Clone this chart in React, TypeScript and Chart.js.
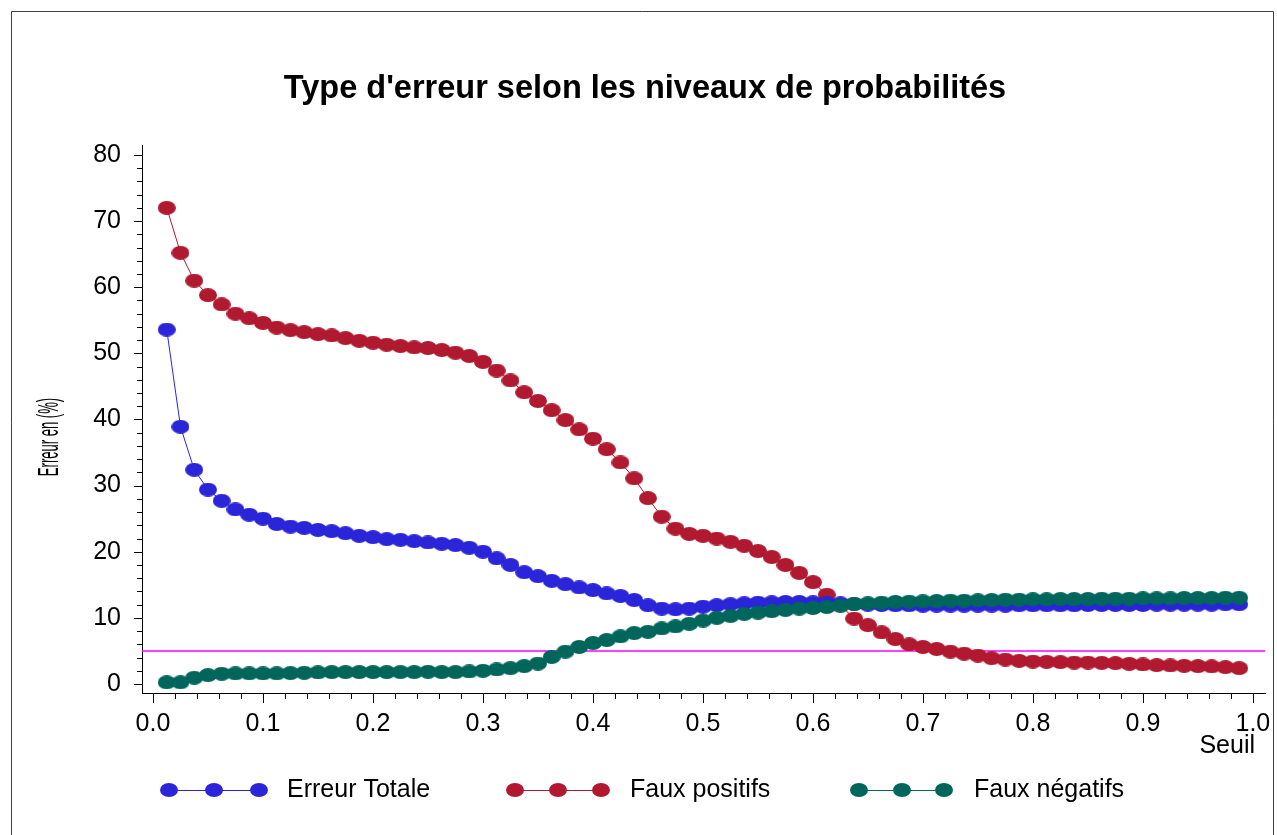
import React, { useEffect, useRef } from "react";
import { Chart, registerables } from "chart.js";

Chart.register(...registerables);

const SEUILS = [
  0.0125, 0.025, 0.0375, 0.05, 0.0625, 0.075, 0.0875, 0.1, 0.1125, 0.125,
  0.1375, 0.15, 0.1625, 0.175, 0.1875, 0.2, 0.2125, 0.225, 0.2375, 0.25,
  0.2625, 0.275, 0.2875, 0.3, 0.3125, 0.325, 0.3375, 0.35, 0.3625, 0.375,
  0.3875, 0.4, 0.4125, 0.425, 0.4375, 0.45, 0.4625, 0.475, 0.4875, 0.5,
  0.5125, 0.525, 0.5375, 0.55, 0.5625, 0.575, 0.5875, 0.6, 0.6125, 0.625,
  0.6375, 0.65, 0.6625, 0.675, 0.6875, 0.7, 0.7125, 0.725, 0.7375, 0.75,
  0.7625, 0.775, 0.7875, 0.8, 0.8125, 0.825, 0.8375, 0.85, 0.8625, 0.875,
  0.8875, 0.9, 0.9125, 0.925, 0.9375, 0.95, 0.9625, 0.975, 0.9875,
];

const ERREUR_TOTALE = [
  53.6, 38.9, 32.4, 29.4, 27.7, 26.4, 25.6, 25.0, 24.2, 23.8,
  23.6, 23.3, 23.1, 22.8, 22.4, 22.2, 21.9, 21.8, 21.6, 21.4,
  21.2, 21.0, 20.6, 20.0, 19.0, 18.0, 16.9, 16.3, 15.6, 15.1,
  14.6, 14.2, 13.7, 13.3, 12.7, 11.9, 11.4, 11.3, 11.4, 11.7,
  11.9, 12.05, 12.2, 12.3, 12.35, 12.4, 12.4, 12.35, 12.3, 12.2,
  12.1, 12.0, 11.95, 11.9, 11.9, 11.85, 11.85, 11.85, 11.85, 11.85,
  11.85, 11.85, 11.9, 11.9, 11.9, 11.9, 11.9, 11.95, 11.95, 11.95,
  11.95, 11.95, 12.0, 12.0, 12.0, 12.0, 12.0, 12.05, 12.05,
];

const FAUX_POSITIFS = [
  72.0, 65.2, 61.0, 58.8, 57.4, 56.0, 55.3, 54.6, 53.9, 53.5,
  53.2, 52.9, 52.7, 52.3, 51.9, 51.6, 51.3, 51.1, 50.9, 50.8,
  50.5, 50.1, 49.6, 48.7, 47.4, 45.9, 44.1, 42.8, 41.4, 39.9,
  38.5, 37.1, 35.5, 33.5, 31.1, 28.1, 25.3, 23.5, 22.7, 22.4,
  22.0, 21.5, 20.9, 20.1, 19.2, 18.0, 16.8, 15.4, 13.5, 11.9,
  9.9, 8.9, 7.8, 6.8, 6.0, 5.6, 5.3, 4.9, 4.6, 4.3,
  3.9, 3.7, 3.5, 3.4, 3.35, 3.3, 3.25, 3.25, 3.2, 3.15,
  3.05, 2.95, 2.85, 2.8, 2.75, 2.7, 2.65, 2.55, 2.4,
];

const FAUX_NEGATIFS = [
  0.25, 0.25, 0.95, 1.35, 1.55, 1.6, 1.6, 1.6, 1.6, 1.65,
  1.7, 1.75, 1.8, 1.8, 1.8, 1.8, 1.8, 1.8, 1.8, 1.85,
  1.8, 1.8, 1.9, 2.0, 2.2, 2.4, 2.7, 3.1, 4.1, 4.9,
  5.6, 6.2, 6.65, 7.2, 7.7, 7.9, 8.4, 8.7, 9.1, 9.6,
  10.0, 10.3, 10.6, 10.8, 11.0, 11.2, 11.4, 11.5, 11.65, 11.85,
  12.1, 12.2, 12.3, 12.4, 12.45, 12.5, 12.55, 12.6, 12.6, 12.65,
  12.7, 12.75, 12.75, 12.8, 12.8, 12.85, 12.85, 12.85, 12.9, 12.9,
  12.9, 12.95, 12.95, 12.95, 13.0, 13.0, 13.0, 13.05, 13.05,
];

const X_TICKS = [0, 0.1, 0.2, 0.3, 0.4, 0.5, 0.6, 0.7, 0.8, 0.9, 1.0];
const Y_TICKS = [0, 10, 20, 30, 40, 50, 60, 70, 80];
const X_MIN = -0.01;
const X_MAX = 1.011;
const REFERENCE_LINE = 5;

const TITLE = "Type d'erreur selon les niveaux de probabilités";
const X_TITLE = "Seuil";
const Y_TITLE = "Erreur en (%)";
const SERIES_NAMES = ["Erreur Totale", "Faux positifs", "Faux négatifs"];
const SERIES_COLORS = ["#2b25d9", "#b0192f", "#00665c"];
const REF_COLOR = "#ff00ff";

const FONT = "'Liberation Sans', Arial, sans-serif";

function makeEllipse(color: string, w: number, h: number): HTMLCanvasElement {
  const c = document.createElement("canvas");
  c.width = w;
  c.height = h;
  const ctx = c.getContext("2d")!;
  ctx.fillStyle = color;
  ctx.beginPath();
  ctx.ellipse(w / 2, h / 2, w / 2, h / 2, 0, 0, Math.PI * 2);
  ctx.fill();
  return c;
}

export default function App() {
  const ref = useRef<HTMLCanvasElement | null>(null);

  useEffect(() => {
    const canvas = ref.current;
    if (!canvas) return;
    const markers = SERIES_COLORS.map((c) => makeEllipse(c, 18, 14));

    const series = [ERREUR_TOTALE, FAUX_POSITIFS, FAUX_NEGATIFS];
    const orders = [2, 3, 1];
    const datasets: any[] = series.map((vals, i) => ({
      label: SERIES_NAMES[i],
      data: SEUILS.map((x, j) => ({ x, y: vals[j] })),
      borderColor: SERIES_COLORS[i],
      backgroundColor: SERIES_COLORS[i],
      borderWidth: 1,
      pointStyle: markers[i] as any,
      pointRadius: 7,
      pointHoverRadius: 7,
      tension: 0,
      order: orders[i],
    }));
    datasets.push({
      label: "ref",
      data: [
        { x: X_MIN, y: REFERENCE_LINE },
        { x: X_MAX, y: REFERENCE_LINE },
      ],
      borderColor: REF_COLOR,
      backgroundColor: REF_COLOR,
      borderWidth: 1.4,
      pointRadius: 0,
      pointHoverRadius: 0,
      order: 10,
    });

    const decor = {
      id: "decor",
      beforeDraw(chart: any) {
        const ctx = chart.ctx;
        ctx.save();
        ctx.fillStyle = "#ffffff";
        ctx.fillRect(0, 0, chart.width, chart.height);
        ctx.strokeStyle = "#404040";
        ctx.lineWidth = 1;
        ctx.beginPath();
        ctx.moveTo(11.5, chart.height + 5);
        ctx.lineTo(11.5, 11.5);
        ctx.lineTo(1273.5, 11.5);
        ctx.lineTo(1273.5, chart.height + 5);
        ctx.stroke();
        ctx.restore();
      },
      afterDraw(chart: any) {
        const ctx = chart.ctx;
        const xs = chart.scales.x;
        const ys = chart.scales.y;
        const area = chart.chartArea;
        ctx.save();
        ctx.strokeStyle = "#000000";
        ctx.lineWidth = 1;
        ctx.beginPath();
        for (let v = 0; v <= 80; v += 2) {
          const py = Math.round(ys.getPixelForValue(v)) + 0.5;
          const len = v % 10 === 0 ? 8 : 5;
          ctx.moveTo(area.left, py);
          ctx.lineTo(area.left - len, py);
        }
        for (let i = 0; i <= 50; i++) {
          const v = i / 50;
          const px = Math.round(xs.getPixelForValue(v)) + 0.5;
          const len = i % 5 === 0 ? 10 : 6;
          ctx.moveTo(px, area.bottom);
          ctx.lineTo(px, area.bottom + len);
        }
        ctx.stroke();

        ctx.fillStyle = "#000000";
        ctx.font = `bold 32.5px ${FONT}`;
        ctx.textAlign = "center";
        ctx.textBaseline = "middle";
        ctx.fillText(TITLE, 645, 89);

        ctx.font = `25px ${FONT}`;
        ctx.textAlign = "right";
        ctx.fillText(X_TITLE, 1255, 746);

        ctx.save();
        ctx.translate(50, 437);
        ctx.rotate(-Math.PI / 2);
        ctx.scale(0.45, 1);
        ctx.font = `29px ${FONT}`;
        ctx.textAlign = "center";
        ctx.fillText(Y_TITLE, 0, 0);
        ctx.restore();

        const ly = 790;
        const groups = [
          { xs: [169, 214, 259], tx: 287 },
          { xs: [515, 558, 601], tx: 630 },
          { xs: [859, 902, 944], tx: 974 },
        ];
        groups.forEach((g, i) => {
          ctx.strokeStyle = SERIES_COLORS[i];
          ctx.lineWidth = 1;
          ctx.beginPath();
          ctx.moveTo(g.xs[0], ly + 0.5);
          ctx.lineTo(g.xs[2], ly + 0.5);
          ctx.stroke();
          g.xs.forEach((x) => {
            ctx.drawImage(markers[i], x - 9, ly - 7);
          });
          ctx.fillStyle = "#000000";
          ctx.font = `25px ${FONT}`;
          ctx.textAlign = "left";
          ctx.textBaseline = "middle";
          ctx.fillText(SERIES_NAMES[i], g.tx, ly);
        });
        ctx.restore();
      },
    };

    const chart = new Chart(canvas, {
      type: "line",
      data: { datasets },
      options: {
        animation: false,
        responsive: false,
        devicePixelRatio: 1,
        layout: { padding: { left: 0, top: 145, right: 12, bottom: 0 } },
        plugins: {
          legend: { display: false },
          tooltip: { enabled: false },
          title: { display: false },
        },
        scales: {
          x: {
            type: "linear",
            min: X_MIN,
            max: X_MAX,
            afterBuildTicks: (scale: any) => {
              scale.ticks = X_TICKS.map((v) => ({ value: v }));
            },
            afterFit: (scale: any) => {
              scale.height = 142;
              scale.paddingLeft = 0;
              scale.paddingRight = 0;
            },
            ticks: {
              callback: (v: any) => Number(v).toFixed(1),
              font: { family: FONT, size: 25 },
              color: "#000000",
              padding: 16,
              maxRotation: 0,
              autoSkip: false,
            },
            grid: { drawOnChartArea: false, drawTicks: false },
            border: { display: true, color: "#000000", width: 1 },
          },
          y: {
            type: "linear",
            min: -1.36,
            max: 81.5,
            afterBuildTicks: (scale: any) => {
              scale.ticks = Y_TICKS.map((v) => ({ value: v }));
            },
            afterFit: (scale: any) => {
              scale.width = 142;
              scale.paddingTop = 0;
              scale.paddingBottom = 0;
            },
            ticks: {
              callback: (v: any) => String(v),
              font: { family: FONT, size: 25 },
              color: "#000000",
              padding: 21,
              autoSkip: false,
            },
            grid: { drawOnChartArea: false, drawTicks: false },
            border: { display: true, color: "#000000", width: 1 },
          },
        },
      },
      plugins: [decor],
    });

    return () => chart.destroy();
  }, []);

  return (
    <div style={{ position: "fixed", left: 0, top: 0, width: 1277, height: 835, background: "#fff" }}>
      <canvas ref={ref} width={1277} height={835} style={{ display: "block", width: 1277, height: 835 }} />
    </div>
  );
}
